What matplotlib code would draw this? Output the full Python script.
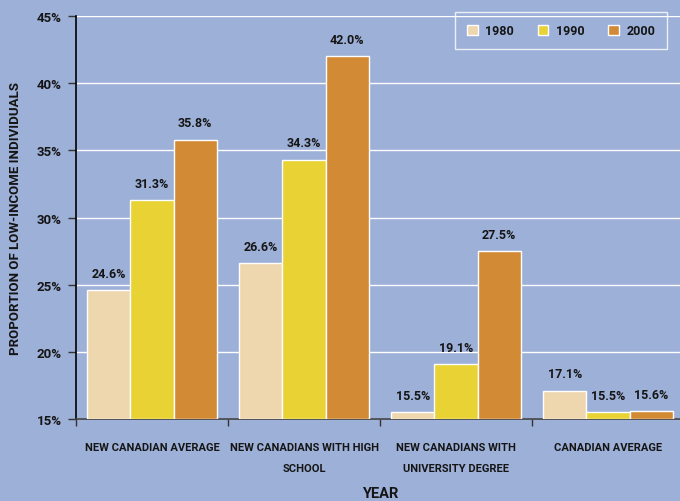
import matplotlib
matplotlib.use("Agg")
import matplotlib.pyplot as plt
import numpy as np

categories = ["NEW CANADIAN AVERAGE", "NEW CANADIANS WITH HIGH\nSCHOOL",
              "NEW CANADIANS WITH\nUNIVERSITY DEGREE", "CANADIAN AVERAGE"]
years = ["1980", "1990", "2000"]
v1980 = [24.6, 26.6, 15.5, 17.1]
v1990 = [31.3, 34.3, 19.1, 15.5]
v2000 = [35.8, 42.0, 27.5, 15.6]
yticks = [15, 20, 25, 30, 35, 40, 45]

colors = ["#eed6ae", "#e8d234", "#d38a34"]
bg = "#9db0d8"
txt = "#151515"

plt.rcParams['font.family'] = ['Roboto', 'DejaVu Sans']
FW = "bold"

fig = plt.figure(figsize=(6.8, 5.02), dpi=100, facecolor=bg)
ax = fig.add_axes([76/680, 82/502, 608/680, 403/502], facecolor=bg)

x = np.arange(len(categories)) + 0.5
w = 0.283
for k, (vals, c, yr) in enumerate(zip([v1980, v1990, v2000], colors, years)):
    pos = x + (k - 1) * w
    ax.bar(pos, np.array(vals) - 15, w, bottom=15, color=c,
           edgecolor="white", linewidth=1.0, label=yr, zorder=3)
    for p, v in zip(pos, vals):
        ax.annotate(f"{v:.1f}%", (p, v), xytext=(0, 7.5), textcoords="offset points",
                    ha="center", va="bottom", fontsize=9, fontweight=FW,
                    color=txt, zorder=4)

ax.set_xlim(0, 4)
ax.set_ylim(15, 45)
ax.set_yticks(yticks)
ax.set_yticklabels([f"{t}%" for t in yticks])
ax.set_xticks([0, 1, 2, 3])
ax.set_xticklabels([])
ax.set_xticks(x, minor=True)
ax.set_xticklabels(categories, minor=True, fontsize=8, fontweight=FW,
                   color=txt, linespacing=2.4)
ax.tick_params(axis="x", which="minor", length=0, pad=16.5)
ax.tick_params(axis="x", which="major", length=5, width=1, color="#333333",
               direction="out")
ax.tick_params(axis="y", length=6, width=1, color="#333333", labelsize=9.5,
               labelcolor=txt, pad=4)
for lab in ax.get_yticklabels():
    lab.set_fontweight(FW)

ax.grid(axis="y", color="white", linewidth=1.0, zorder=0)
ax.set_axisbelow(True)
for s in ["top", "right"]:
    ax.spines[s].set_visible(False)
ax.spines["left"].set_color("black")
ax.spines["left"].set_linewidth(1.2)
ax.spines["bottom"].set_color("#444444")
ax.spines["bottom"].set_linewidth(1.2)

ax.set_ylabel("PROPORTION OF LOW-INCOME INDIVIDUALS", fontsize=9.5,
              fontweight=FW, color=txt)
ax.yaxis.set_label_coords(-60/608, 0.5)
ax.set_xlabel("YEAR", fontsize=10.5, fontweight=FW, color=txt)
ax.xaxis.set_label_coords(304/608, -74/403)
ax.xaxis.label.set_va("center")
ax.yaxis.label.set_va("center")

leg = ax.legend(loc="upper right", bbox_to_anchor=(667/680, 489/502),
                bbox_transform=fig.transFigure, ncol=3, frameon=True,
                fontsize=9, handlelength=0.85, handleheight=0.85,
                columnspacing=1.9, handletextpad=0.6, borderpad=0.95,
                fancybox=False, borderaxespad=0)
leg.get_frame().set_facecolor("none")
leg.get_frame().set_edgecolor("white")
leg.get_frame().set_linewidth(1.0)
for t in leg.get_texts():
    t.set_fontweight(FW)
    t.set_color(txt)

fig.savefig("out.png", dpi=100, facecolor=bg)
